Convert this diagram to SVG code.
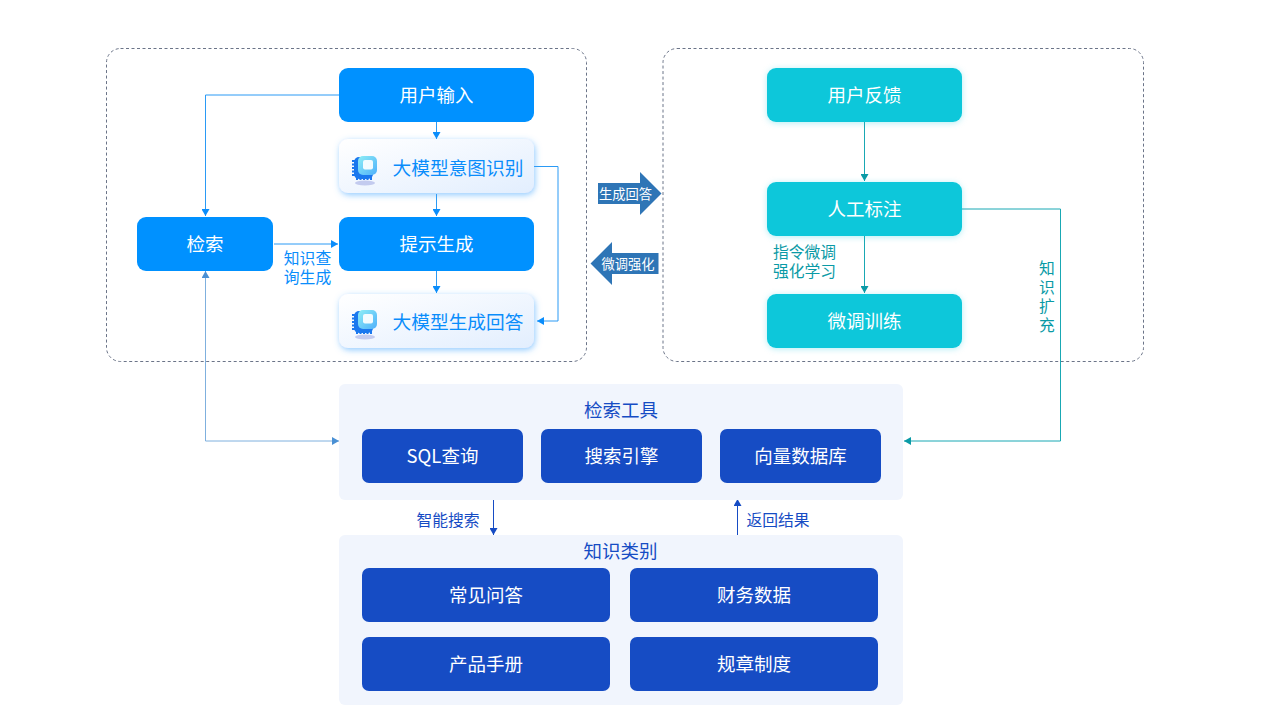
<svg xmlns="http://www.w3.org/2000/svg" width="1267" height="713" viewBox="0 0 1267 713">
<style>
text{font-family:"Noto Sans CJK SC","Noto Sans",sans-serif;text-anchor:middle;dominant-baseline:central}
.panel{fill:#fff;stroke:#6b7488;stroke-width:1;stroke-dasharray:3 2.5}
.b{fill:#0091ff}.t{fill:#0dc7da}.d{fill:#164cc4}.bg{fill:#f1f5fd}
.w{fill:#fff;font-size:18.500px}
.ai{fill:url(#aiG);filter:url(#glow)}
.ait{fill:#0a8dfb;font-size:18.700px}
.lb{fill:#0a8dfb;font-size:15.800px}
.lt{fill:#0a9aa6;font-size:15.800px}
.ld{fill:#164cc4;font-size:15.800px}
.h{fill:#164cc4;font-size:18.500px}
.s{fill:#fff;font-size:13.300px}
.c{fill:none;stroke-width:1}
.cb{stroke:#2a9af5}.ct{stroke:#19a8b4}.cd{stroke:#164cc4}.cg{stroke:#7fb0de}
</style>
<defs>
<linearGradient id="aiG" x1="0" y1="0" x2="1" y2="1"><stop offset="0" stop-color="#fff"/><stop offset="1" stop-color="#e2eefe"/></linearGradient>
<linearGradient id="chip" x1="0" y1="0" x2="1" y2="1"><stop offset="0" stop-color="#8eeef5"/><stop offset="1" stop-color="#4fb0fb"/></linearGradient>
<filter id="glow" x="-10%" y="-30%" width="120%" height="160%"><feDropShadow dx="1" dy="2" stdDeviation="3" flood-color="#4aa8ff" flood-opacity=".6"/></filter>
<filter id="tg" x="-10%" y="-30%" width="120%" height="160%"><feDropShadow dx="0" dy="1" stdDeviation="3" flood-color="#0dc7da" flood-opacity=".3"/></filter>
<marker id="mb" markerWidth="8" markerHeight="8" refX="7" refY="4" orient="auto" markerUnits="userSpaceOnUse"><path d="M0 0L7 4L0 8z" fill="#0a8dfb"/></marker>
<marker id="mt" markerWidth="8" markerHeight="8" refX="7" refY="4" orient="auto" markerUnits="userSpaceOnUse"><path d="M0 0L7 4L0 8z" fill="#0a9aa6"/></marker>
<marker id="md" markerWidth="8" markerHeight="8" refX="7" refY="4" orient="auto" markerUnits="userSpaceOnUse"><path d="M0 0L7 4L0 8z" fill="#164cc4"/></marker>
<marker id="mg" markerWidth="8" markerHeight="8" refX="7" refY="4" orient="auto" markerUnits="userSpaceOnUse"><path d="M0 0L7 4L0 8z" fill="#4a90d4"/></marker>
<g id="chipIcon">
<ellipse cx="14" cy="27" rx="10" ry="2.500" fill="#c3cbef"/>
<rect x="3" y="1" width="19" height="22" rx="5" fill="#1b78ee"/>
<path d="M4 4V20" stroke="#1b78ee" stroke-width="6" stroke-dasharray="2 1.500" fill="none"/>
<path d="M5 22H21" stroke="#1b78ee" stroke-width="4" stroke-dasharray="2 1.500" fill="none"/>
<rect x="7" y="0" width="19" height="19" rx="5" fill="url(#chip)"/>
<rect x="12" y="4" width="10" height="9.500" rx="2" fill="#f2fbff"/>
</g>
</defs>
<rect width="1267" height="713" fill="#fff"/>
<rect class="panel" x="106.500" y="48.500" width="480" height="313" rx="14"/>
<rect class="panel" x="663" y="48.500" width="480.500" height="313" rx="14"/>
<g id="connectors">
<path class="c cb" d="M339 95H205.500V216" marker-end="url(#mb)"/>
<path class="c cb" d="M436.500 122V139" marker-end="url(#mb)"/>
<path class="c cb" d="M436.500 194V216" marker-end="url(#mb)"/>
<path class="c cb" d="M436.500 271V293" marker-end="url(#mb)"/>
<path class="c cb" d="M274 244H338" marker-end="url(#mb)"/>
<path class="c cb" d="M534 166.500H558V321H537" marker-end="url(#mb)"/>
<path class="c cg" d="M205.500 441V271" marker-end="url(#mg)"/>
<path class="c cg" d="M205.500 441H339" marker-end="url(#mg)"/>
<path class="c ct" d="M864.500 122V181" marker-end="url(#mt)"/>
<path class="c ct" d="M864.500 236V293" marker-end="url(#mt)"/>
<path class="c ct" d="M962 209H1060.500V441H904" marker-end="url(#mt)"/>
<path class="c cd" d="M493.500 500V535" marker-end="url(#md)"/>
<path class="c cd" d="M737.500 535V499" marker-end="url(#md)"/>
</g>
<g id="arrow-gen"><path d="M598 183H640V172L661.500 193.500L640 215V204H598z" fill="#2e75b6"/><text class="s" x="625.500" y="193">生成回答</text></g>
<g id="arrow-tune"><path d="M658.500 253H612V242L590.500 263.500L612 285V274H658.500z" fill="#2e75b6"/><text class="s" x="628" y="263">微调强化</text></g>
<g id="n-input"><rect class="b" x="339" y="68" width="195" height="54" rx="9"/><text class="w" x="436.500" y="93.500">用户输入</text></g>
<g id="n-intent"><rect class="ai" x="339" y="139" width="195" height="54" rx="9"/><use href="#chipIcon" x="351" y="156"/><text class="ait" x="458" y="166">大模型意图识别</text></g>
<g id="n-prompt"><rect class="b" x="339" y="217" width="195" height="54" rx="9"/><text class="w" x="436.500" y="242.500">提示生成</text></g>
<g id="n-answer"><rect class="ai" x="339" y="294" width="195" height="54" rx="9"/><use href="#chipIcon" x="351" y="310"/><text class="ait" x="458" y="320">大模型生成回答</text></g>
<g id="n-search"><rect class="b" x="137" y="217" width="136" height="54" rx="9"/><text class="w" x="205" y="242.500">检索</text></g>
<g id="l-query"><text class="lb" y="257"><tspan x="307.500">知识查</tspan><tspan x="307.500" dy="19">询生成</tspan></text></g>
<g id="n-feedback"><rect class="t" x="767" y="68" width="195" height="54" rx="9" filter="url(#tg)"/><text class="w" x="864.500" y="93.500">用户反馈</text></g>
<g id="n-label"><rect class="t" x="767" y="182" width="195" height="54" rx="9" filter="url(#tg)"/><text class="w" x="864.500" y="207.500">人工标注</text></g>
<g id="n-train"><rect class="t" x="767" y="294" width="195" height="54" rx="9" filter="url(#tg)"/><text class="w" x="864.500" y="319.500">微调训练</text></g>
<g id="l-instr"><text class="lt" y="251"><tspan x="804.500">指令微调</tspan><tspan x="804.500" dy="19">强化学习</tspan></text></g>
<g id="l-expand"><text class="lt" y="267"><tspan x="1047">知</tspan><tspan x="1047" dy="19">识</tspan><tspan x="1047" dy="19">扩</tspan><tspan x="1047" dy="19">充</tspan></text></g>
<g id="n-tools"><rect class="bg" x="339" y="384" width="564" height="116" rx="6"/><text class="h" x="621" y="409">检索工具</text></g>
<g id="n-sql"><rect class="d" x="362" y="429" width="161" height="54" rx="7"/><text class="w" x="442.500" y="454.500">SQL查询</text></g>
<g id="n-engine"><rect class="d" x="541" y="429" width="161" height="54" rx="7"/><text class="w" x="621.500" y="454.500">搜索引擎</text></g>
<g id="n-vector"><rect class="d" x="720" y="429" width="161" height="54" rx="7"/><text class="w" x="800.500" y="454.500">向量数据库</text></g>
<text class="ld" x="448" y="519">智能搜索</text>
<text class="ld" x="778" y="519">返回结果</text>
<g id="n-kinds"><rect class="bg" x="339" y="535" width="564" height="170" rx="6"/><text class="h" x="620.500" y="550">知识类别</text></g>
<g id="n-faq"><rect class="d" x="362" y="568" width="248" height="54" rx="7"/><text class="w" x="486" y="593.500">常见问答</text></g>
<g id="n-fin"><rect class="d" x="630" y="568" width="248" height="54" rx="7"/><text class="w" x="754" y="593.500">财务数据</text></g>
<g id="n-manual"><rect class="d" x="362" y="637" width="248" height="54" rx="7"/><text class="w" x="486" y="662.500">产品手册</text></g>
<g id="n-rules"><rect class="d" x="630" y="637" width="248" height="54" rx="7"/><text class="w" x="754" y="662.500">规章制度</text></g>
</svg>
